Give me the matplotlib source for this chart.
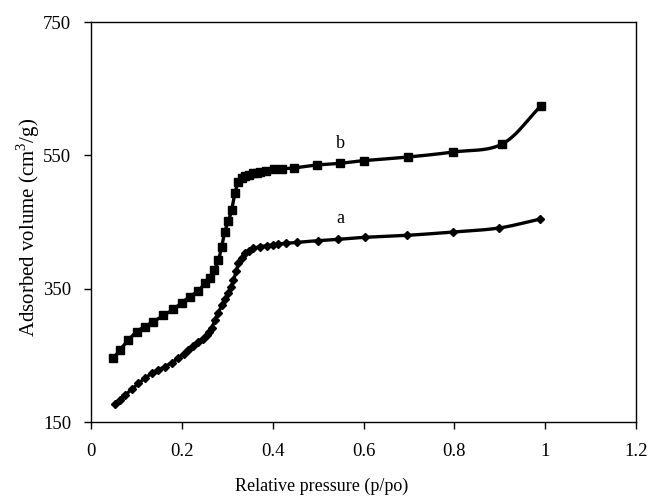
import matplotlib
matplotlib.use('Agg')
import matplotlib.pyplot as plt
import numpy as np

plt.rcParams['font.family'] = ['Liberation Serif', 'DejaVu Serif']
plt.rcParams['mathtext.fontset'] = 'custom'
plt.rcParams['mathtext.rm'] = 'Liberation Serif'

# curve a (diamonds)
a_p = [0.053, 0.064, 0.075, 0.09, 0.105, 0.12, 0.134, 0.148, 0.163, 0.178, 0.193,
       0.205, 0.215, 0.226, 0.237, 0.246, 0.255, 0.261, 0.266, 0.273, 0.281, 0.288,
       0.296, 0.303, 0.309, 0.314, 0.32, 0.325, 0.332, 0.339, 0.348, 0.358, 0.372,
       0.387, 0.4, 0.412, 0.43, 0.453, 0.5, 0.544, 0.603, 0.696, 0.797, 0.898, 0.989]
a_v = [177, 183, 190, 199, 208, 216, 223, 228, 233, 239, 245.5,
       252, 258, 264, 270.5, 275, 280.5, 285, 290.5, 303, 314, 325.5,
       334, 343, 353, 363, 376, 388, 396, 403, 407, 410.5, 413,
       414.5, 416, 417, 418, 419.5, 422, 424, 427, 430, 435, 441, 454.5]

# curve b (squares)
b_p = [0.05, 0.064, 0.083, 0.101, 0.119, 0.138, 0.16, 0.182, 0.2, 0.218, 0.237,
       0.251, 0.262, 0.272, 0.281, 0.288, 0.295, 0.303, 0.31, 0.317, 0.325, 0.332,
       0.339, 0.348, 0.356, 0.365, 0.373, 0.385, 0.402, 0.42, 0.446, 0.497,
       0.548, 0.6, 0.698, 0.797, 0.905, 0.99]
b_v = [245.5, 258, 273, 285.5, 293, 300.5, 310, 319, 329, 338, 347,
       358, 365.5, 378, 393, 413, 435.5, 452, 468, 493, 510.5, 516,
       519, 521, 523, 524, 525, 527, 529, 530, 531, 535.5,
       538, 542, 547.5, 555, 567, 624]

xticks = [0, 0.2, 0.4, 0.6, 0.8, 1, 1.2]
xticklabels = ['0', '0.2', '0.4', '0.6', '0.8', '1', '1.2']
yticks = [150, 350, 550, 750]


def smooth(x, y, n=12):
    # catmull-rom style smoothing of the drawn line only
    x = np.asarray(x, float)
    y = np.asarray(y, float)
    px = np.concatenate([[2 * x[0] - x[1]], x, [2 * x[-1] - x[-2]]])
    py = np.concatenate([[2 * y[0] - y[1]], y, [2 * y[-1] - y[-2]]])
    t = np.linspace(0, 1, n, endpoint=False)
    xs, ys = [], []
    for i in range(1, len(px) - 2):
        for p, out in ((px, xs), (py, ys)):
            p0, p1, p2, p3 = p[i - 1], p[i], p[i + 1], p[i + 2]
            out.extend(0.5 * (2 * p1 + (-p0 + p2) * t
                              + (2 * p0 - 5 * p1 + 4 * p2 - p3) * t ** 2
                              + (-p0 + 3 * p1 - 3 * p2 + p3) * t ** 3))
    xs.append(x[-1])
    ys.append(y[-1])
    return np.array(xs), np.array(ys)


fig = plt.figure(figsize=(6.48, 4.98), dpi=100)
ax = fig.add_axes([0.14, 0.1526, 0.842, 0.8032])

for p, v, m, ms in ((a_p, a_v, 'D', 4.2), (b_p, b_v, 's', 5.2)):
    sx, sy = smooth(p, v)
    ax.plot(sx, sy, color='black', lw=2.4, solid_capstyle='round')
    ax.plot(p, v, linestyle='none', marker=m, ms=ms, color='black')

ax.text(0.549, 568, 'b', fontsize=13, ha='center', va='center')
ax.text(0.548, 456, 'a', fontsize=13, ha='center', va='center')

ax.set_xlim(0, 1.2)
ax.set_ylim(150, 750)
ax.set_xticks(xticks)
ax.set_xticklabels(xticklabels)
ax.set_yticks(yticks)
ax.tick_params(direction='out', length=5, width=1, labelsize=13.5)
ax.tick_params(axis='x', pad=10)
ax.tick_params(axis='y', pad=9)
for s in ax.spines.values():
    s.set_linewidth(1)

ax.set_xlabel('Relative pressure (p/po)', fontsize=13)
ax.set_ylabel('Adsorbed volume (cm$^3$/g)', fontsize=15)
ax.xaxis.set_label_coords(0.424, -0.14)
ax.yaxis.set_label_coords(-0.09, 0.4875)

fig.savefig('out.png', dpi=100)
